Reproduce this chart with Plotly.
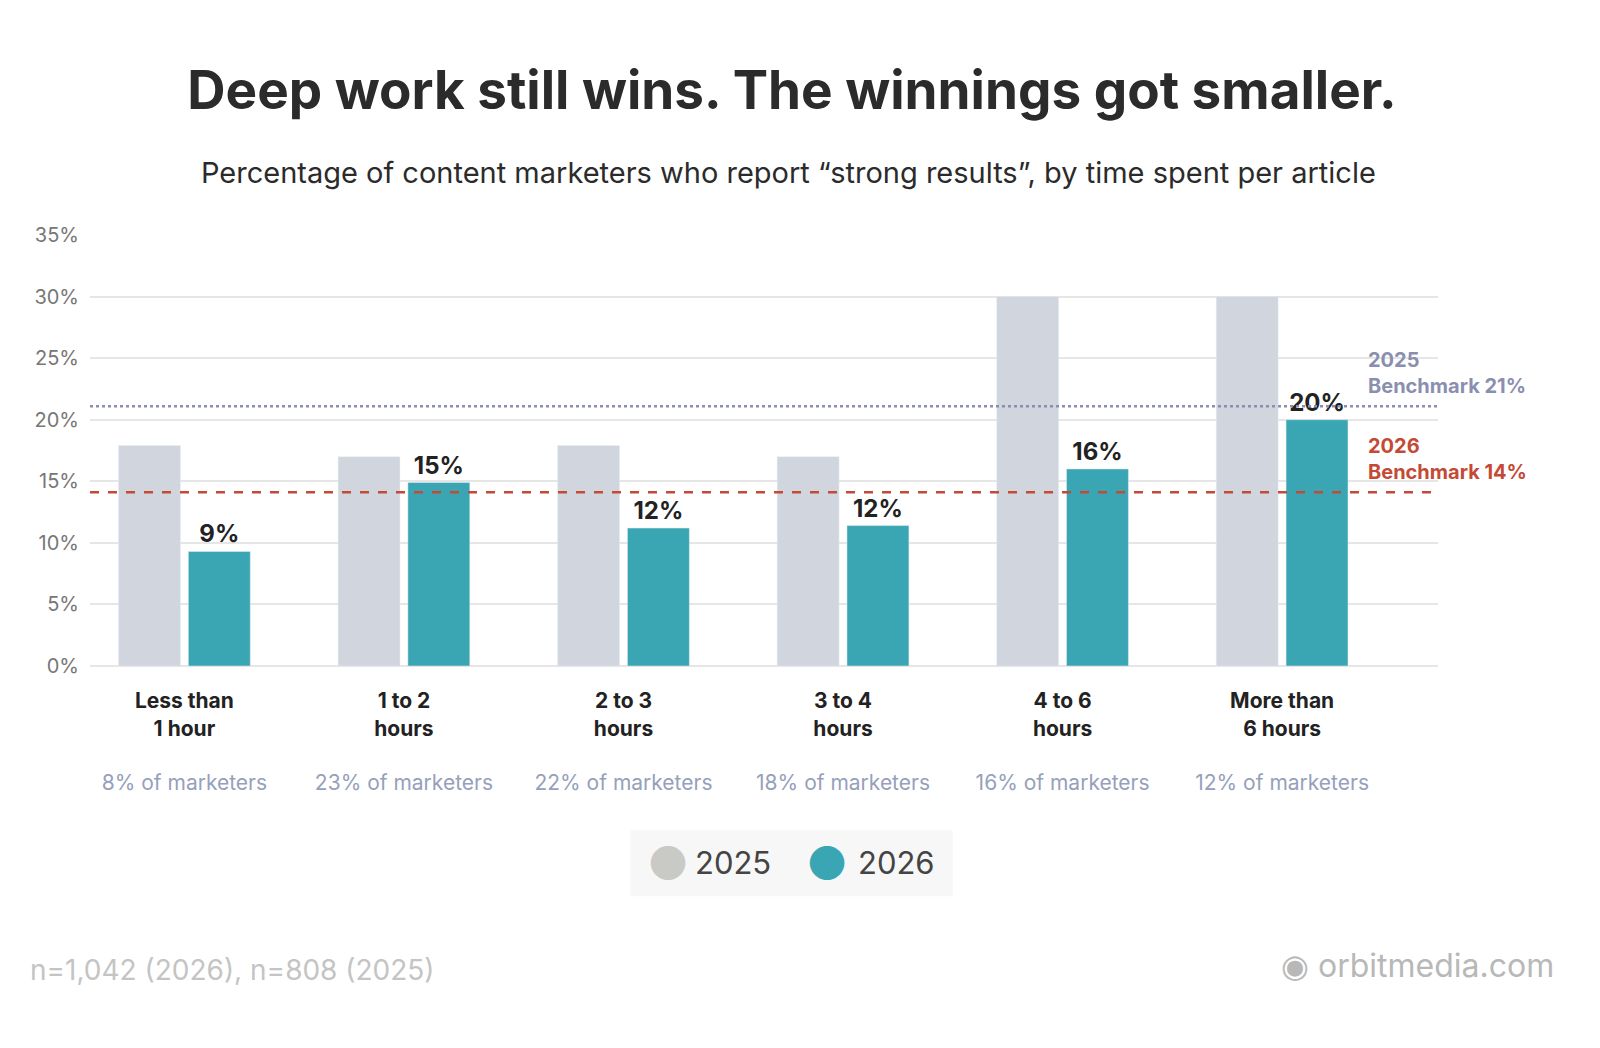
import plotly.graph_objects as go

categories = ["Less than<br>1 hour", "1 to 2<br>hours", "2 to 3<br>hours",
              "3 to 4<br>hours", "4 to 6<br>hours", "More than<br>6 hours"]
share_of_marketers = ["8%", "23%", "22%", "18%", "16%", "12%"]
values_2025 = [17.9, 17.0, 17.9, 17.0, 30.0, 30.0]
values_2026 = [9.3, 14.9, 11.2, 11.4, 16.0, 20.0]
labels_2026 = ["9%", "15%", "12%", "12%", "16%", "20%"]
benchmark_2025 = 21.1
benchmark_2026 = 14.1

FONT = "Inter"
GREY = "#d1d6de"
TEAL = "#3aa6b3"
LEGEND_GREY = "#c9c9c6"

ticktext = [f"<b>{c}</b><br><br><span style='color:#96a0bb;font-weight:400'>{s} of marketers</span>"
            for c, s in zip(categories, share_of_marketers)]

fig = go.Figure()
fig.add_trace(go.Bar(x=list(range(6)), y=values_2025, name="2025", showlegend=False,
                     marker=dict(color=GREY), hoverinfo="skip"))
fig.add_trace(go.Bar(x=list(range(6)), y=values_2026, name="2026", showlegend=False,
                     marker=dict(color=TEAL), text=[f"<b>{t}</b>" for t in labels_2026],
                     textposition="outside", cliponaxis=False,
                     textfont=dict(size=24, color="#222222", family=FONT)))

fig.add_hline(y=benchmark_2025, line=dict(color="#8a8fb0", width=2.5, dash="dot"))
fig.add_hline(y=benchmark_2026, line=dict(color="#c44a36", width=2.5, dash="dash"))

# legend box drawn by hand so the markers can be large circles
fig.add_shape(type="rect", xref="paper", yref="paper", x0=0.401, x1=0.640, y0=-0.534, y1=-0.381,
              fillcolor="#f7f7f7", line=dict(width=0), layer="below")


def legend_item(x_dot, x_text, label, color):
    return [
        dict(text="\u25cf", x=x_dot, xref="paper", y=-0.457, yref="paper", showarrow=False,
             xanchor="center", yanchor="middle", font=dict(size=46, color=color)),
        dict(text=label, x=x_text, xref="paper", y=-0.457, yref="paper", showarrow=False,
             xanchor="left", yanchor="middle", font=dict(size=31, color="#444444", family=FONT)),
    ]


annotations = [
    dict(text="<b>2025<br>Benchmark 21%</b>", x=0.9466, xref="paper", y=benchmark_2025 + 0.5,
         yref="y", xanchor="left", yanchor="bottom", align="left", showarrow=False,
         font=dict(size=20, color="#8a8fb0", family=FONT)),
    dict(text="<b>2026<br>Benchmark 14%</b>", x=0.9466, xref="paper", y=benchmark_2026 + 0.5,
         yref="y", xanchor="left", yanchor="bottom", align="left", showarrow=False,
         font=dict(size=20, color="#c44a36", family=FONT)),
    dict(text="Percentage of content marketers who report \u201cstrong results\u201d, by time spent per article",
         x=0.518, xref="paper", y=1.144, yref="paper", showarrow=False, yanchor="middle",
         font=dict(size=29, color="#2b2b2b", family=FONT)),
    dict(text="n=1,042 (2026), n=808 (2025)", x=-0.046, xref="paper", xanchor="left",
         y=-0.705, yref="paper", yanchor="middle", showarrow=False,
         font=dict(size=28, color="#c4c4c4", family=FONT)),
    dict(text="\u25c9 orbitmedia.com", x=1.0875, xref="paper", xanchor="right",
         y=-0.695, yref="paper", yanchor="middle", showarrow=False,
         font=dict(size=32, color="#b8b8b8", family=FONT)),
] + legend_item(0.429, 0.447, "2025", LEGEND_GREY) + legend_item(0.547, 0.568, "2026", TEAL)

fig.update_layout(
    width=1600, height=1048, plot_bgcolor="white", paper_bgcolor="white",
    margin=dict(l=82, r=170, t=227, b=390),
    title=dict(text="<b>Deep work still wins. The winnings got smaller.</b>",
               x=0.49, xanchor="center", y=1 - 82 / 1048, yanchor="middle",
               font=dict(size=53, color="#2b2b2b", family=FONT)),
    bargap=0.364, bargroupgap=0.113,
    font=dict(family=FONT),
    showlegend=False,
    xaxis=dict(tickvals=list(range(6)), ticktext=ticktext, showline=False, showgrid=False,
               range=[-0.43, 5.71],
               tickfont=dict(size=21, color="#222222"), ticks="outside", ticklen=16,
               tickcolor="white"),
    yaxis=dict(range=[0, 35], dtick=5, ticksuffix="%", gridcolor="#e6e6e6", gridwidth=1.5,
               zeroline=True, zerolinecolor="#e6e6e6", zerolinewidth=1.5,
               tickfont=dict(size=20, color="#777777"), ticklabelstandoff=10),
    annotations=annotations,
)

fig.write_html("out.html")
